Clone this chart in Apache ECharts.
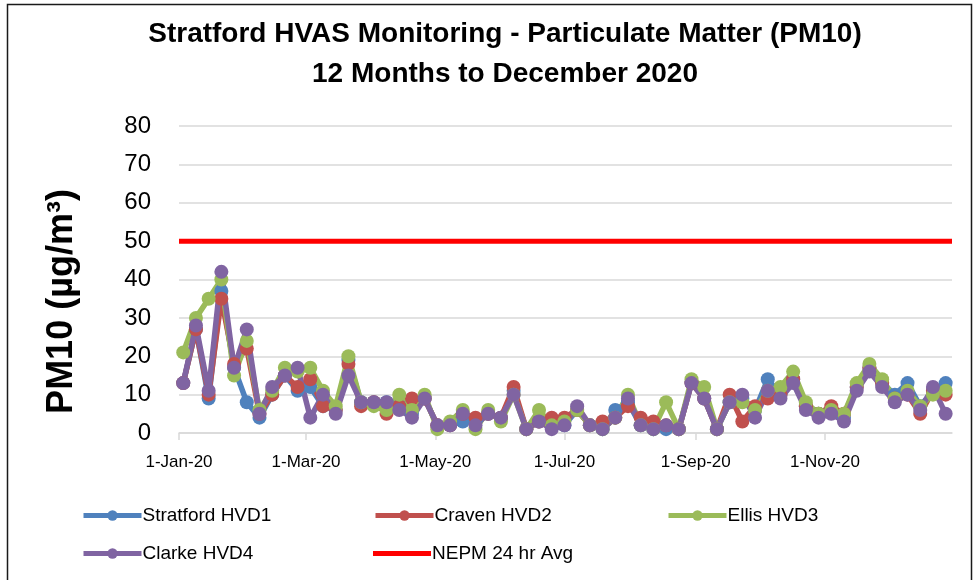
<!DOCTYPE html>
<html>
<head>
<meta charset="utf-8">
<script src="https://cdn.jsdelivr.net/npm/echarts@6/dist/echarts.min.js"></script>
<style>
  html, body { margin: 0; padding: 0; background: #fff; }
  #chart { width: 973px; height: 580px; }
</style>
</head>
<body>
<div id="chart"></div>
<script>
// HVAS sample days (one every 6 days)
var sampleDates = [
  '2020-01-03', '2020-01-09', '2020-01-15', '2020-01-21', '2020-01-27',
  '2020-02-02', '2020-02-08', '2020-02-14', '2020-02-20', '2020-02-26',
  '2020-03-03', '2020-03-09', '2020-03-15', '2020-03-21', '2020-03-27',
  '2020-04-02', '2020-04-08', '2020-04-14', '2020-04-20', '2020-04-26',
  '2020-05-02', '2020-05-08', '2020-05-14', '2020-05-20', '2020-05-26',
  '2020-06-01', '2020-06-07', '2020-06-13', '2020-06-19', '2020-06-25',
  '2020-07-01', '2020-07-07', '2020-07-13', '2020-07-19', '2020-07-25', '2020-07-31',
  '2020-08-06', '2020-08-12', '2020-08-18', '2020-08-24', '2020-08-30',
  '2020-09-05', '2020-09-11', '2020-09-17', '2020-09-23', '2020-09-29',
  '2020-10-05', '2020-10-11', '2020-10-17', '2020-10-23', '2020-10-29',
  '2020-11-04', '2020-11-10', '2020-11-16', '2020-11-22', '2020-11-28',
  '2020-12-04', '2020-12-10', '2020-12-16', '2020-12-22', '2020-12-28'
]

var stratford = [13, 27, 9, 37, 17, 8, 4, 10, 15, 11, 12, 7, 6, 19, 8, 8, 8, 7, 5, 9,
  2, 2, 3, 3, 5, 4, 11, 1, 3, 2, 2, 6, 2, 1, 6, 8, 2, 1, 1, 1,
  13, 9, 1, 8, 9, 6, 14, 10, 14, 7, 5, 6, 4, 12, 17, 13, 10, 13, 7, 11, 13]
var craven = [13, 27, 10, 35, 18, 22, 5, 10, 15, 12, 14, 7, 6, 18, 7, 8, 5, 7, 9, 9,
  2, 2, 5, 4, 5, 4, 12, 1, 3, 4, 4, 6, 2, 3, 4, 7, 4, 3, 2, 1,
  13, 9, 1, 10, 3, 7, 9, 10, 14, 7, 5, 7, 5, 12, 17, 13, 9, 10, 5, 11, 10]
var ellis = [21, 30, 35, 40, 15, 24, 6, 11, 17, 16, 17, 11, 7, 20, 8, 7, 6, 10, 6, 10,
  1, 3, 6, 1, 6, 3, 10, 1, 6, 2, 3, 6, 2, 1, 4, 10, 2, 1, 8, 1,
  14, 12, 1, 8, 8, 6, 11, 12, 16, 8, 5, 6, 5, 13, 18, 14, 9, 11, 7, 10, 11]
var clarke = [13, 28, 11, 42, 17, 27, 5, 12, 15, 17, 4, 10, 5, 15, 8, 8, 8, 6, 4, 9,
  2, 2, 5, 2, 5, 4, 10, 1, 3, 1, 2, 7, 2, 1, 4, 9, 2, 1, 2, 1,
  13, 9, 1, 8, 10, 4, 11, 9, 13, 6, 4, 5, 3, 11, 16, 12, 8, 10, 6, 12, 5]

// NEPM 24 hr average criterion
var nepmDates = ['2020-01-01', '2020-12-31']
var nepmValues = [50, 50]

// x axis ticks
var tickDates = ['2020-01-01', '2020-03-01', '2020-05-01', '2020-07-01', '2020-09-01', '2020-11-01']
var tickLabels = ['1-Jan-20', '1-Mar-20', '1-May-20', '1-Jul-20', '1-Sep-20', '1-Nov-20']

var FONT = 'Liberation Sans'

function toTime(s) {
  var p = s.split('-')
  return Date.UTC(+p[0], +p[1] - 1, +p[2])
}
function pairs(dates, values) {
  return dates.map(function (d, i) { return [toTime(d), values[i]] })
}
var tickTimes = tickDates.map(toTime)

function stationSeries(name, color, values) {
  return {
    name: name,
    type: 'line',
    data: pairs(sampleDates, values),
    symbol: 'circle',
    symbolSize: 14,
    showSymbol: true,
    lineStyle: { color: color, width: 5.5 },
    itemStyle: { color: color },
    emphasis: { disabled: true },
    animation: false
  }
}

function legendAt(name, left, top, plain) {
  var lg = {
    data: [name],
    left: left,
    top: top,
    itemWidth: 58,
    itemHeight: 13,
    itemGap: 0,
    lineStyle: { width: 5 },
    textStyle: { fontFamily: FONT, fontSize: 19, color: '#000', padding: [0, 0, 0, -4] },
    selectedMode: false
  }
  if (plain) {
    lg.data = [{ name: name, icon: 'rect' }]
    lg.itemHeight = 5
  }
  return lg
}

var chart = echarts.init(document.getElementById('chart'))
chart.setOption({
  animation: false,
  backgroundColor: '#fff',
  title: {
    text: 'Stratford HVAS Monitoring - Particulate Matter (PM10)\n12 Months to December 2020',
    left: 500,
    textAlign: 'center',
    top: 9,
    textStyle: { fontFamily: FONT, fontSize: 28, fontWeight: 'bold', color: '#000', lineHeight: 40 }
  },
  legend: [
    legendAt('Stratford HVD1', 76, 501),
    legendAt('Craven HVD2', 368, 501),
    legendAt('Ellis HVD3', 661, 501),
    legendAt('Clarke HVD4', 76, 539),
    legendAt('NEPM 24 hr Avg', 368, 539, true)
  ],
  grid: { left: 179, right: 21, top: 126, bottom: 147 },
  xAxis: {
    type: 'value',
    min: toTime('2020-01-01'),
    max: toTime('2020-12-31'),
    axisLine: { show: true, onZero: false, lineStyle: { color: '#D9D9D9', width: 1.5 } },
    axisTick: {
      show: true,
      length: 7,
      customValues: tickTimes,
      lineStyle: { color: '#D9D9D9', width: 1.5 }
    },
    axisLabel: {
      customValues: tickTimes,
      margin: 21,
      fontFamily: FONT,
      fontSize: 17,
      color: '#000',
      formatter: function (v) {
        var i = tickTimes.indexOf(v)
        return i >= 0 ? tickLabels[i] : ''
      }
    },
    splitLine: { show: false }
  },
  yAxis: {
    type: 'value',
    min: 0,
    max: 80,
    interval: 10,
    name: 'PM10 (µg/m³)',
    nameLocation: 'middle',
    nameRotate: 90,
    nameGap: 99,
    nameTextStyle: { fontFamily: FONT, fontSize: 36, fontWeight: 'bold', color: '#000', padding: [0, 44, 0, 0] },
    axisLine: { show: false },
    axisTick: { show: false },
    axisLabel: { fontFamily: FONT, fontSize: 24, color: '#000', margin: 28 },
    splitLine: { lineStyle: { color: '#D9D9D9', width: 1.5 } }
  },
  series: [
    stationSeries('Stratford HVD1', '#4F81BD', stratford),
    stationSeries('Craven HVD2', '#C0504D', craven),
    stationSeries('Ellis HVD3', '#9BBB59', ellis),
    stationSeries('Clarke HVD4', '#8064A2', clarke),
    {
      name: 'NEPM 24 hr Avg',
      type: 'line',
      data: pairs(nepmDates, nepmValues),
      showSymbol: false,
      symbol: 'none',
      lineStyle: { color: '#FF0000', width: 5 },
      itemStyle: { color: '#FF0000' },
      emphasis: { disabled: true },
      animation: false
    }
  ],
  graphic: [
    {
      type: 'rect',
      left: 5,
      top: 2,
      shape: { width: 964, height: 600 },
      style: { fill: 'none', stroke: '#1a1a1a', lineWidth: 1.5 },
      silent: true
    }
  ]
})
</script>
</body>
</html>
